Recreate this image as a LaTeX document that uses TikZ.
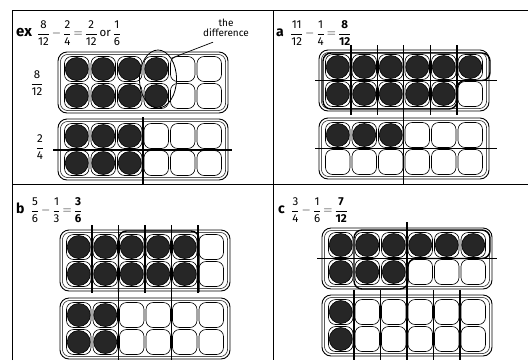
\documentclass[tikz,border=0pt]{standalone}
\usepackage{fontspec}
\setmainfont{Fira Sans}
\usetikzlibrary{shapes.geometric, positioning}
\newcommand{\fr}[2]{$\displaystyle\frac{\mbox{#1}}{\mbox{#2}}$}
% one egg tray: x0, y0, eggs in top row, eggs in bottom row
\newcommand{\eggtray}[4]{%
  \begin{scope}[shift={(#1,#2)}]
    \draw[trayouter] (0,0) rectangle (170,61);
    \draw[trayinner] (2.5,2.5) rectangle (167.5,58.5);
    \foreach \cx in {1,...,6}{
      \foreach \rw/\nn in {1/#3,2/#4}{
        \draw[cup] ({5.5+(\cx-1)*26.5+1},{3.5+(\rw-1)*27+1}) rectangle ++(24.5,25);
        \ifnum\cx>\nn\relax\else
          \filldraw[egg] ({5.5+(\cx-0.5)*26.5},{3.5+(\rw-0.5)*27}) circle[radius=11.5pt];
        \fi
      }
    }
  \end{scope}}
\begin{document}
\begin{tikzpicture}[
    x=1pt, y=-1pt,
    frameline/.style={line width=1pt},
    trayouter/.style={line width=0.9pt, rounded corners=9pt},
    trayinner/.style={line width=0.5pt, rounded corners=7pt},
    cup/.style={line width=0.6pt, rounded corners=7pt},
    egg/.style={fill=black!85, draw=black, line width=0.6pt},
    cutline/.style={line width=1.4pt},
    loopline/.style={line width=1.4pt, rounded corners=8pt},
    sumlabel/.style={anchor=west, inner sep=0pt, font=\fontsize{11.5}{13}\selectfont},
    sidelabel/.style={inner sep=0pt, font=\fontsize{11.5}{13}\selectfont},
    note/.style={align=center, inner sep=0pt, font=\fontsize{10}{10.5}\selectfont, text depth=0pt}
]
\useasboundingbox (0,0) rectangle (528,360);
\clip (0,0) rectangle (528,360);
\fill[white] (0,0) rectangle (528,360);

% frame
\draw[frameline] (12,360) -- (12,10) -- (528,10);
\draw[frameline] (273,10) -- (273,360);
\draw[frameline] (12,184) -- (528,184);

% example panel
\node[sumlabel] (exsum) at (16,33) {{\fontsize{15}{15}\selectfont\bfseries ex}\,
  \fr{8}{12}\,$-$\,\fr{2}{4}\,$=$\,\fr{2}{12}\,or\,\fr{1}{6}};
\node[sidelabel] (extop) at (37,83) {\fr{8}{12}};
\node[sidelabel] (exbot) at (40,147) {\fr{2}{4}};
\eggtray{58}{52}{4}{4}
\eggtray{58}{119}{3}{3}
\draw[cutline] (143,117) -- (143,184);
\draw[cutline] (53,150) -- (232,150);
\node[ellipse, draw, line width=0.8pt, minimum width=37pt, minimum height=58pt,
  inner sep=0pt] (diffoval) at (158,79) {};
\node[note] (diffnote) at (226,28) {the\\difference};
\draw[line width=0.7pt] (diffoval.north east) -- ([xshift=-13pt, yshift=-5pt]diffnote.south);

% panel a
\node[sumlabel] (asum) at (276,33) {{\fontsize{14}{14}\selectfont\bfseries a}\;
  \fr{11}{12}\,$-$\,\fr{1}{4}\,$=$\,\fr{\textbf{8}}{\textbf{12}}};
\eggtray{319}{50}{6}{5}
\eggtray{319}{118}{3}{0}
\foreach \k in {1,2,4,5}
  \draw[cutline] ({319+5.5+\k*26.5},45) -- ({319+5.5+\k*26.5},115);
\draw[cutline] (403.5,45) -- (403.5,184);
\draw[cutline] (315,80.5) -- (497,80.5);
\draw[cutline] (315,148.5) -- (497,148.5);
\draw[loopline] (323,53) -- (490,53) -- (490,80.5) -- (457,80.5) -- (457,109)
  -- (323,109) -- cycle;

% panel b
\node[sumlabel] (bsum) at (16,210) {{\fontsize{14}{14}\selectfont\bfseries b}\;
  \fr{5}{6}\,$-$\,\fr{1}{3}\,$=$\,\fr{\textbf{3}}{\textbf{6}}};
\eggtray{60}{230}{5}{5}
\eggtray{60}{298}{2}{2}
\foreach \k in {1,3,5}
  \draw[cutline] ({60+5.5+\k*26.5},225) -- ({60+5.5+\k*26.5},293);
\foreach \k in {2,4}
  \draw[cutline] ({60+5.5+\k*26.5},225) -- ({60+5.5+\k*26.5},360);
\draw[loopline] (118.5,292) -- (118.5,231) -- (199,231) -- (199,292);

% panel c
\node[sumlabel] (csum) at (278,210) {{\fontsize{14}{14}\selectfont\bfseries c}\;
  \fr{3}{4}\,$-$\,\fr{1}{6}\,$=$\,\fr{\textbf{7}}{\textbf{12}}};
\eggtray{322}{228}{6}{3}
\eggtray{322}{295}{1}{1}
\draw[cutline] (317,258.5) -- (497,258.5);
\draw[cutline] (407,222) -- (407,290);
\foreach \k in {1,...,5}
  \draw[cutline] ({322+5.5+\k*26.5},290) -- ({322+5.5+\k*26.5},360);
\draw[loopline] (354,289) -- (354,230) -- (490,230) -- (490,258.5) -- (408,258.5)
  -- (408,289) -- cycle;
\end{tikzpicture}
\end{document}
